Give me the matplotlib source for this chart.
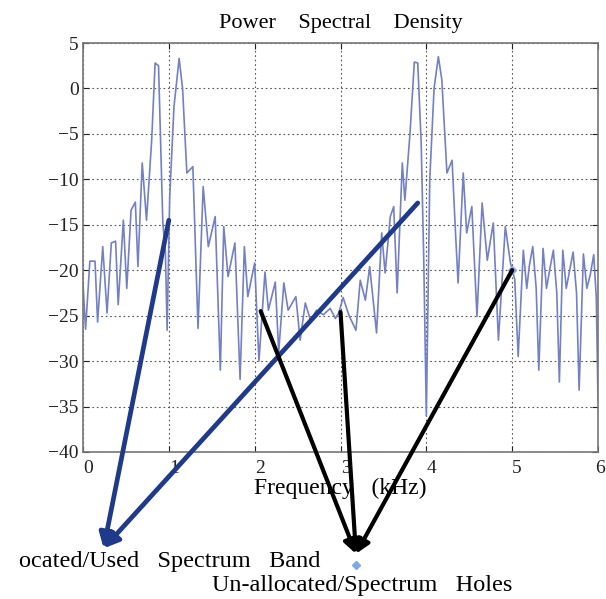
import numpy as np
import matplotlib.pyplot as plt
from matplotlib import transforms

plt.rcParams['font.family'] = ['Liberation Serif', 'DejaVu Serif']

# PSD trace (kHz, dB)
freq = [0.00, 0.03, 0.08, 0.14, 0.17, 0.23, 0.28, 0.33, 0.38, 0.41,
        0.47, 0.51, 0.56, 0.61, 0.64, 0.69, 0.74, 0.80, 0.84, 0.88,
        0.93, 0.96, 0.98, 1.01, 1.06, 1.12, 1.16, 1.21, 1.28, 1.34,
        1.40, 1.46, 1.54, 1.60, 1.64, 1.69, 1.77, 1.83, 1.88, 1.92,
        2.00, 2.05, 2.12, 2.16, 2.24, 2.28, 2.34, 2.39, 2.48, 2.53,
        2.59, 2.65, 2.72, 2.80, 2.88, 2.94, 2.98, 3.03, 3.10, 3.18,
        3.23, 3.29, 3.34, 3.42, 3.48, 3.52, 3.58, 3.62, 3.66, 3.72,
        3.75, 3.81, 3.86, 3.90, 3.94, 3.97, 4.00, 4.04, 4.09, 4.14,
        4.18, 4.24, 4.30, 4.34, 4.37, 4.43, 4.47, 4.53, 4.59, 4.65,
        4.71, 4.78, 4.84, 4.92, 4.98, 5.03, 5.07, 5.13, 5.17, 5.20,
        5.24, 5.28, 5.31, 5.36, 5.40, 5.44, 5.48, 5.52, 5.55, 5.59,
        5.63, 5.67, 5.71, 5.75, 5.78, 5.83, 5.87, 5.91, 5.95, 5.98,
        6.00]
psd = [-21.5, -26.5, -19.0, -19.0, -25.7, -17.4, -24.7, -17.0, -16.8, -23.8,
       -14.5, -22.0, -13.4, -12.5, -19.6, -8.2, -14.5, -5.7, 2.8, 2.5,
       -14.8, -18.0, -26.6, -12.0, -2.0, 3.3, 0.0, -9.3, -8.6, -26.4,
       -10.8, -17.4, -14.1, -31.0, -15.2, -20.7, -17.0, -32.0, -17.4, -22.9,
       -19.2, -30.0, -20.2, -24.4, -21.3, -29.0, -21.4, -24.4, -22.9, -27.7,
       -23.6, -25.5, -24.4, -24.9, -24.2, -25.3, -24.7, -23.0, -25.0, -26.6,
       -21.1, -23.3, -19.6, -26.9, -15.9, -20.3, -14.1, -13.0, -22.5, -8.2,
       -12.3, -4.9, 2.9, 2.8, -6.0, -18.9, -36.0, -10.0, 0.0, 3.5,
       1.0, -9.3, -7.9, -15.9, -21.4, -9.3, -15.9, -13.0, -25.1, -12.6,
       -18.9, -14.8, -27.7, -15.2, -19.2, -21.0, -29.5, -17.8, -22.0, -19.5,
       -17.4, -22.0, -31.0, -17.6, -22.0, -19.8, -17.8, -22.5, -32.3, -17.8,
       -22.0, -20.0, -18.0, -22.5, -33.2, -18.2, -22.0, -20.5, -18.3, -23.0,
       -34.3]

# arrows: (tail x, tail y) -> head
used_tails = [(1.00, -14.5), (3.90, -12.6)]
used_head = (0.24, -50.6)
hole_tails = [(2.07, -24.5), (3.00, -24.6), (5.00, -20.0)]
hole_head = (3.18, -51.2)

fig = plt.figure(figsize=(6.06, 5.99), dpi=100)
ax = fig.add_axes([83/606, 1 - 452/599, 515/606, 409/599])

ax.plot(freq, psd, color='#7480c4', lw=1.2)

ax.set_xlim(0, 6)
ax.set_ylim(-40, 5)
ax.set_xticks(range(0, 7))
ax.set_yticks(range(-40, 6, 5))
ax.grid(True, color='#555555', linestyle=(0, (1.5, 2.5)), lw=0.8)
ax.tick_params(direction='in', top=True, right=True, length=4,
               labelsize=14, colors='#222222')
ax.tick_params(axis='x', pad=6)
ax.tick_params(axis='y', pad=3)
for sp in ax.spines.values():
    sp.set_color('#777777')
    sp.set_linewidth(1.2)

# x tick labels sit a bit right of the ticks (last one kept inside the figure)
for i, lab in enumerate(ax.get_xticklabels()):
    dx = 5 if i < 6 else 2
    off = transforms.ScaledTranslation(dx/100, 0, fig.dpi_scale_trans)
    lab.set_transform(lab.get_transform() + off)

ax.set_title('Power    Spectral    Density', fontsize=16, pad=11)
ax.set_xlabel('Frequency   (kHz)', fontsize=17, labelpad=0)

for t in used_tails:
    ax.annotate('', xy=used_head, xytext=t, annotation_clip=False,
                arrowprops=dict(arrowstyle='-|>', color='#1f3a8a', lw=3.4,
                                mutation_scale=22, shrinkA=0, shrinkB=0))
for t in hole_tails:
    ax.annotate('', xy=hole_head, xytext=t, annotation_clip=False,
                arrowprops=dict(arrowstyle='-|>', color='black', lw=3.0,
                                mutation_scale=20, shrinkA=0, shrinkB=0))

ax.plot([5.00], [-20.0], 'D', color='#7fa8e6', ms=4, clip_on=False)
ax.plot([3.18], [-52.4], 'D', color='#7fa8e6', ms=4, clip_on=False)

fig.text(19/606, 1 - 562/599, 'ocated/Used   Spectrum   Band', fontsize=17.5,
         va='center', ha='left')
fig.text(212/606, 1 - 585/599, 'Un-allocated/Spectrum   Holes', fontsize=17.5,
         va='center', ha='left')

fig.savefig('out.png', dpi=100)
